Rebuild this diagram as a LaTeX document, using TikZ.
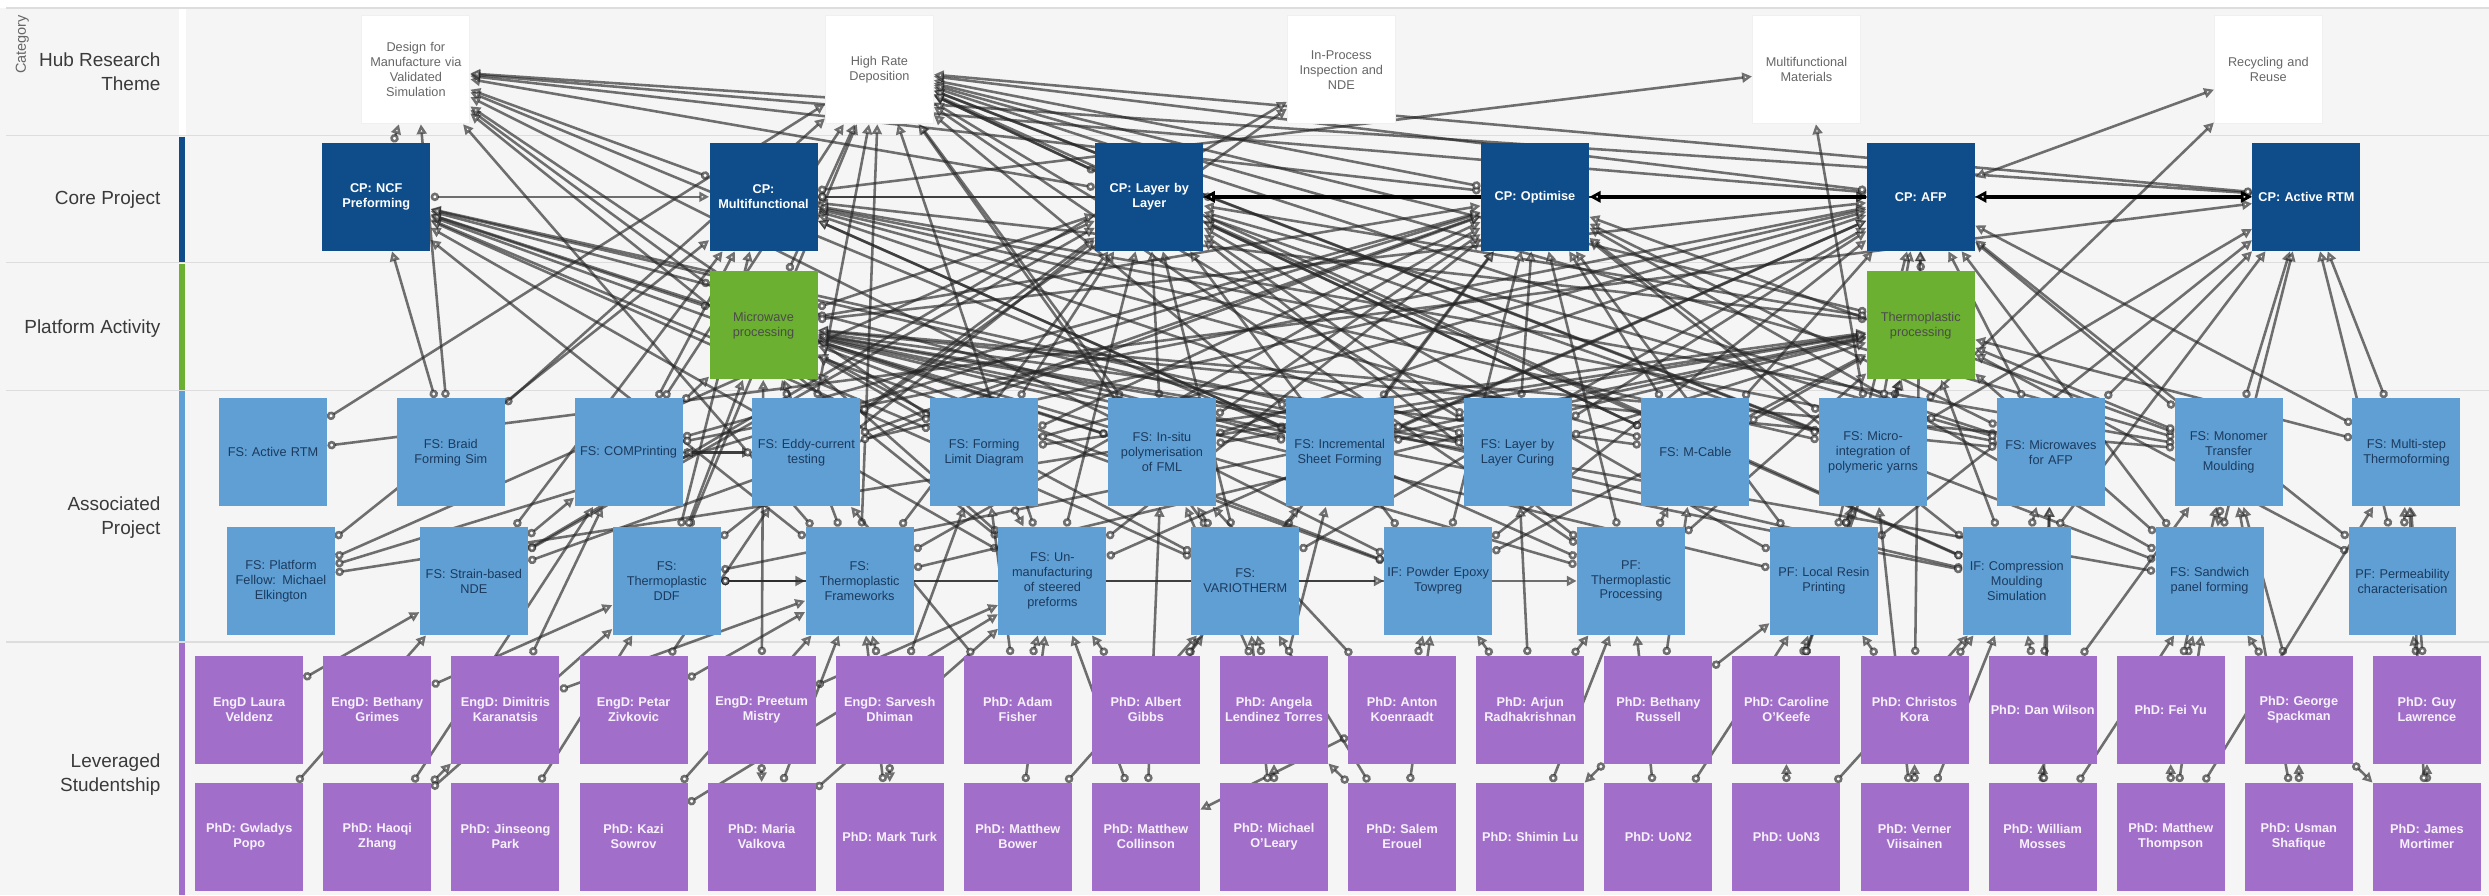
\documentclass[tikz,border=0pt]{standalone}
\usepackage{fontspec}
\setmainfont{Liberation Sans}
\usetikzlibrary{arrows.meta, positioning}

\definecolor{bggrey}{HTML}{F5F5F5}
\definecolor{sepgrey}{HTML}{DDDDDD}
\definecolor{coreblue}{HTML}{0E4D8A}
\definecolor{platgreen}{HTML}{6BB030}
\definecolor{assocblue}{HTML}{5F9FD3}
\definecolor{assoctext}{HTML}{1C3A5E}
\definecolor{studpurple}{HTML}{A16FCA}
\definecolor{labeltext}{HTML}{3A3A3A}

\pgfdeclarelayer{bg}
\pgfdeclarelayer{edges}
\pgfsetlayers{bg,edges,main}

\begin{document}
\begin{tikzpicture}[
    x=0.025cm, y=-0.025cm,
    box/.style={rectangle, minimum width=1.7cm, minimum height=1.7cm, text width=1.67cm,
        inner xsep=0.1pt, inner ysep=0.5pt, align=center, font=\fontsize{5.7}{6.7}\selectfont},
    hub/.style={box, fill=white, draw=black!6, text=black!60},
    core/.style={box, fill=coreblue, text=white, font=\fontsize{5.7}{6.7}\selectfont\bfseries},
    plat/.style={box, fill=platgreen, text=black!70},
    assoc/.style={box, fill=assocblue, text=assoctext},
    stud/.style={box, fill=studpurple, text=white!90!studpurple, font=\fontsize{5.7}{6.7}\selectfont\bfseries},
    rowlabel/.style={anchor=east, align=right, text=labeltext, font=\fontsize{8.5}{10.7}\selectfont},
    link/.style={draw=black!85, draw opacity=0.65, line width=1.15pt,
        {Circle[fill=white, length=3.8pt, width=3.8pt]}-{Triangle[fill=white, length=4.4pt, width=4.4pt]}},
    twolink/.style={draw=black!85, draw opacity=0.65, line width=1.15pt,
        {Triangle[fill=white, length=4.4pt, width=4.4pt]}-{Triangle[fill=white, length=4.4pt, width=4.4pt]}},
    mainlink/.style={draw=black, line width=1.7pt, -{Triangle[fill=white, length=5pt, width=5pt]}},
]
\useasboundingbox (0,0) rectangle (1568,564);

% Swimlanes
\begin{pgfonlayer}{bg}
    \fill[white] (0,0) rectangle (1568,564);
    \fill[bggrey] (0,5) rectangle (1568,564);
    \foreach \yy in {5,85.5,165.5,246,404.5}
        \draw[sepgrey, line width=0.6pt] (4,\yy) -- (1568,\yy);
    \fill[white] (113,5.5) rectangle (117,85);
    \fill[coreblue] (113,86) rectangle (116.5,165);
    \fill[platgreen] (113,166) rectangle (116.5,245.5);
    \fill[assocblue] (113,246.5) rectangle (116.5,404);
    \fill[studpurple] (113,405) rectangle (116.5,564);
\end{pgfonlayer}

% Lane labels
\node[rotate=90, text=black!60, font=\fontsize{6.5}{7.5}\selectfont] (cat) at (14,28) {Category};
\node[rowlabel] (lhub) at (106,45) {Hub Research\\Theme};
\node[rowlabel] (lcore) at (106,126) {Core Project};
\node[rowlabel] (lplat) at (106,207) {Platform Activity};
\node[rowlabel] (lassoc) at (106,326) {Associated\\Project};
\node[rowlabel] (lstud) at (106,488) {Leveraged\\Studentship};

% Hub research themes
\node[hub] (dfm) at (262,44) {Design for\\Manufacture via\\Validated\\Simulation};
\node[hub] (hrd) at (554,44) {High Rate\\Deposition};
\node[hub] (ipi) at (845,44) {In-Process\\Inspection and\\NDE};
\node[hub] (mfm) at (1138,44) {Multifunctional\\Materials};
\node[hub] (rr) at (1429,44) {Recycling and\\Reuse};

% Core projects
\node[core] (ncf) at (237,124) {CP: NCF\\Preforming};
\node[core] (cpmf) at (481,124) {CP:\\Multifunctional};
\node[core] (lbl) at (724,124) {CP: Layer by\\Layer};
\node[core] (opt) at (967,124) {CP: Optimise};
\node[core] (afp) at (1210,124) {CP: AFP};
\node[core] (artm) at (1453,124) {CP: Active RTM};

% Platform activities
\node[plat] (mw) at (481,205) {Microwave\\processing};
\node[plat] (tp) at (1210,205) {Thermoplastic\\processing};

% Associated projects
\foreach \nm/\txt [count=\i from 0] in {
    fsartm/{FS: Active RTM}, braid/{FS: Braid\\Forming Sim}, compr/{FS: COMPrinting},
    eddy/{FS: Eddy-current\\testing}, fld/{FS: Forming\\Limit Diagram},
    insitu/{FS: In-situ\\polymerisation\\of FML}, isf/{FS: Incremental\\Sheet Forming},
    lblc/{FS: Layer by\\Layer Curing}, mcable/{FS: M-Cable},
    micro/{FS: Micro-\\integration of\\polymeric yarns}, mwafp/{FS: Microwaves\\for AFP},
    mtm/{FS: Monomer\\Transfer\\Moulding}, mstf/{FS: Multi-step\\Thermoforming}}
    \node[assoc] (\nm) at ({172+112*\i},285) {\txt};
\foreach \nm/\txt [count=\i from 0] in {
    elk/{FS: Platform\\Fellow: Michael\\Elkington}, sndt/{FS: Strain-based\\NDE},
    tddf/{FS:\\Thermoplastic\\DDF}, tfw/{FS:\\Thermoplastic\\Frameworks},
    unman/{FS: Un-\\manufacturing\\of steered\\preforms}, vario/{FS:\\VARIOTHERM},
    pet/{IF: Powder Epoxy\\Towpreg}, pftp/{PF:\\Thermoplastic\\Processing},
    lrp/{PF: Local Resin\\Printing}, cms/{IF: Compression\\Moulding\\Simulation},
    sandw/{FS: Sandwich\\panel forming}, perm/{PF: Permeability\\characterisation}}
    \node[assoc] (\nm) at ({177+121.5*\i},366) {\txt};

% Leveraged studentships
\foreach \nm/\txt [count=\i from 0] in {
    veldenz/{EngD Laura\\Veldenz}, grimes/{EngD: Bethany\\Grimes},
    karanatsis/{EngD: Dimitris\\Karanatsis}, zivkovic/{EngD: Petar\\Zivkovic},
    mistry/{EngD: Preetum\\Mistry}, dhiman/{EngD: Sarvesh\\Dhiman},
    fisher/{PhD: Adam\\Fisher}, gibbs/{PhD: Albert\\Gibbs},
    lendinez/{PhD: Angela\\Lendinez Torres}, koenraadt/{PhD: Anton\\Koenraadt},
    radha/{PhD: Arjun\\Radhakrishnan}, russell/{PhD: Bethany\\Russell},
    okeefe/{PhD: Caroline\\O'Keefe}, kora/{PhD: Christos\\Kora},
    wilson/{PhD: Dan Wilson}, yu/{PhD: Fei Yu},
    spackman/{PhD: George\\Spackman}, lawrence/{PhD: Guy\\Lawrence}}
    \node[stud] (\nm) at ({157+80.7*\i},447) {\txt};
\foreach \nm/\txt [count=\i from 0] in {
    popo/{PhD: Gwladys\\Popo}, zhang/{PhD: Haoqi\\Zhang},
    park/{PhD: Jinseong\\Park}, sowrov/{PhD: Kazi\\Sowrov},
    valkova/{PhD: Maria\\Valkova}, turk/{PhD: Mark Turk},
    bower/{PhD: Matthew\\Bower}, collinson/{PhD: Matthew\\Collinson},
    oleary/{PhD: Michael\\O'Leary}, erouel/{PhD: Salem\\Erouel},
    lu/{PhD: Shimin Lu}, uon2/{PhD: UoN2}, uon3/{PhD: UoN3},
    viisainen/{PhD: Verner\\Viisainen}, mosses/{PhD: William\\Mosses},
    thompson/{PhD: Matthew\\Thompson}, shafique/{PhD: Usman\\Shafique},
    mortimer/{PhD: James\\Mortimer}}
    \node[stud] (\nm) at ({157+80.7*\i},527) {\txt};

% Links
\begin{pgfonlayer}{edges}
    % into the themes
    \foreach \a/\b in {ncf/dfm, cpmf/dfm, lbl/dfm, opt/dfm, afp/dfm, artm/dfm, mw/dfm,
        braid/dfm, isf/dfm, fld/dfm, pet/dfm, unman/dfm, tfw/dfm,
        braid/hrd, tddf/hrd, eddy/hrd, compr/hrd, lbl/hrd, opt/hrd, afp/hrd, artm/hrd,
        tp/hrd, mw/hrd, mwafp/hrd, mtm/hrd, lblc/hrd, insitu/hrd, micro/hrd, pftp/hrd,
        fsartm/hrd, tfw/hrd, unman/hrd, vario/hrd, isf/hrd, mcable/hrd, sandw/hrd, cms/hrd,
        eddy/ipi, sndt/ipi, cpmf/mfm, micro/mfm, micro/rr}
        \draw[link] (\a) -- (\b);
    \draw[twolink] (afp) -- (rr);
    % into the core projects
    \foreach \a/\b in {ncf/cpmf, braid/ncf, fld/ncf, insitu/ncf, isf/ncf, unman/ncf,
        tfw/ncf, vario/ncf, lblc/ncf, pet/ncf, mw/ncf, cms/ncf,
        elk/cpmf, tddf/cpmf, mcable/cpmf, micro/cpmf, lblc/cpmf, tp/cpmf, mwafp/cpmf,
        isf/cpmf, compr/cpmf, mtm/cpmf, pftp/cpmf, sndt/cpmf,
        lblc/lbl, insitu/lbl, unman/lbl, mw/lbl, tp/lbl, pet/lbl, vario/lbl, eddy/lbl,
        fld/lbl, sndt/lbl, pftp/lbl, lrp/lbl, cms/lbl, tfw/lbl, tddf/lbl, elk/lbl,
        mcable/lbl, micro/lbl, mwafp/lbl,
        fld/opt, isf/opt, cms/opt, sndt/opt, mcable/opt, tfw/opt, pftp/opt, lrp/opt,
        micro/opt, mw/opt, elk/opt, mwafp/opt, unman/opt, vario/opt, pet/opt, sandw/opt,
        eddy/opt, compr/opt, lblc/opt, insitu/opt, mtm/opt,
        mwafp/afp, tp/afp, mtm/afp, micro/afp, lrp/afp, unman/afp, vario/afp, insitu/afp,
        pet/afp, mw/afp, compr/afp, cpmf/afp, lbl/afp, mcable/afp, eddy/afp,
        sandw/afp, perm/afp, fld/afp, isf/afp, lblc/afp, mstf/afp,
        fsartm/artm, mtm/artm, perm/artm, mstf/artm, sandw/artm, cms/artm, lrp/artm,
        micro/artm, cpmf/artm, mwafp/artm}
        \draw[link] (\a) -- (\b);
    % into the platform activities
    \foreach \a/\b in {mwafp/mw, eddy/mw, compr/mw, tfw/mw, tddf/mw, fld/mw, insitu/mw,
        unman/mw, vario/mw, isf/mw, lblc/mw, mcable/mw, pftp/mw, lrp/mw, cms/mw,
        sandw/mw, pet/mw, mtm/mw,
        tddf/tp, tfw/tp, pftp/tp, mstf/tp, mtm/tp, sandw/tp, isf/tp, micro/tp, mcable/tp,
        lrp/tp, cms/tp, insitu/tp, lblc/tp, perm/tp, fld/tp, pet/tp, elk/tp}
        \draw[link] (\a) -- (\b);
    % between associated projects
    \foreach \a/\b in {compr/eddy, eddy/compr, sndt/compr, tddf/tfw, tddf/pftp, tddf/pet,
        perm/mstf, mtm/sandw, fld/unman, vario/insitu, cms/mwafp, lrp/micro, pftp/mcable}
        \draw[link] (\a) -- (\b);
    % studentships
    \foreach \a/\b in {veldenz/sndt, grimes/tddf, popo/sndt, zhang/karanatsis, zhang/tddf,
        karanatsis/compr, karanatsis/tfw, zivkovic/tfw, zivkovic/eddy, sowrov/tfw,
        mistry/mw, mistry/unman, mistry/valkova, valkova/unman, dhiman/turk, dhiman/tfw,
        fisher/unman, fisher/fld, bower/vario, gibbs/unman, gibbs/vario, lendinez/vario,
        lendinez/insitu, koenraadt/collinson, koenraadt/pet, oleary/lendinez,
        erouel/lendinez, erouel/vario, collinson/unman, radha/pet, radha/pftp,
        russell/lu, russell/lrp, uon2/lrp, okeefe/lrp, okeefe/tp, kora/cms, kora/afp,
        viisainen/kora, viisainen/micro, uon3/okeefe, wilson/mwafp, wilson/cms,
        mosses/wilson, mosses/mwafp, yu/sandw, yu/mtm, thompson/yu, thompson/sandw,
        shafique/spackman, spackman/sandw, spackman/mtm, spackman/mortimer,
        lawrence/perm, lawrence/mstf, mortimer/lawrence, mortimer/mstf,
        koenraadt/insitu, radha/lblc, russell/mcable, okeefe/micro, kora/lrp,
        wilson/mtm, gibbs/isf, lendinez/isf, fisher/eddy, dhiman/fld, turk/tfw,
        bower/unman, collinson/insitu, oleary/vario, erouel/pet, lu/pftp, uon2/pftp,
        uon3/cms, viisainen/cms, mosses/sandw, thompson/mstf, shafique/mtm,
        park/tddf, sowrov/unman, valkova/tfw, zhang/compr}
        \draw[link] (\a) -- (\b);
    % main core links
    \draw[mainlink] (opt) -- (lbl);
    \draw[mainlink] (afp) -- (opt);
    \draw[mainlink, {Triangle[fill=white, length=5pt, width=5pt]}-{Triangle[fill=white, length=5pt, width=5pt]}] (afp) -- (artm);
\end{pgfonlayer}

\end{tikzpicture}
\end{document}
